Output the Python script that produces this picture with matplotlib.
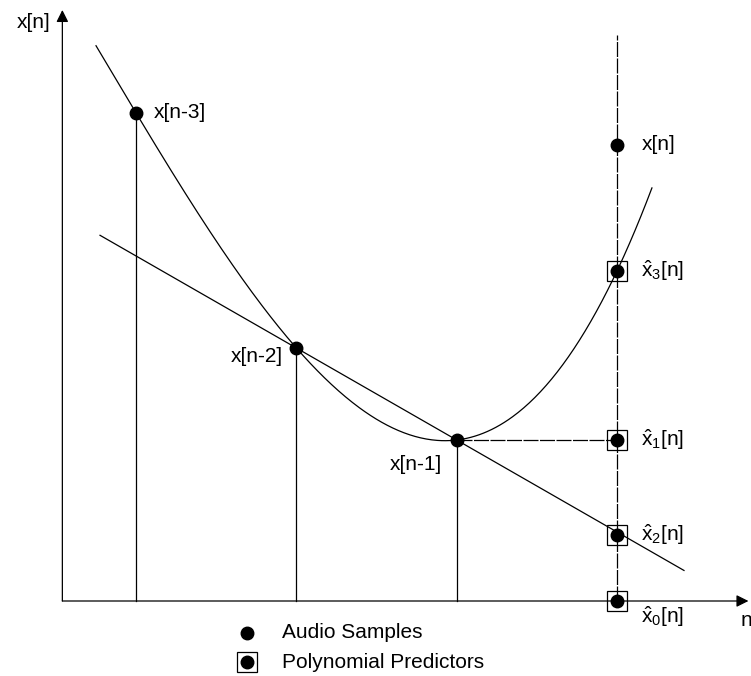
import numpy as np
import matplotlib
matplotlib.use("Agg")
import matplotlib.pyplot as plt

plt.rcParams['font.family'] = ['Liberation Sans', 'DejaVu Sans']
plt.rcParams['mathtext.fontset'] = 'custom'
plt.rcParams['mathtext.rm'] = 'Liberation Sans'
plt.rcParams['mathtext.it'] = 'Liberation Sans'

# ---- data (sample index relative to n, amplitude) ----
sample_n = [-3, -2, -1, 0]
sample_vals = [4.88, 2.53, 1.61, 4.56]
sample_labels = ["x[n-3]", "x[n-2]", "x[n-1]", "x[n]"]

pred_order = [0, 1, 2, 3]
pred_vals = [0.0, 1.61, 0.66, 3.30]
pred_labels = [r"$\hat{\mathrm{x}}_0$[n]", r"$\hat{\mathrm{x}}_1$[n]",
               r"$\hat{\mathrm{x}}_2$[n]", r"$\hat{\mathrm{x}}_3$[n]"]

curve_range = [-3.25, 0.218]
line_range = [-3.225, 0.418]
n_axis_range = [-3.46, 0.82]
amp_axis_top = 5.91
current_line_top = 5.66

fig = plt.figure(figsize=(7.51, 6.76), dpi=100)
ax = fig.add_axes([0, 0, 1, 1])
ax.set_xlim(-3.849, 0.836)
ax.set_ylim(-0.75, 6.01)
ax.axis('off')

lw = 0.9
FS = 15
DASH = (0, (12, 1.2))

# axes with arrows
ax.annotate('', xy=(n_axis_range[1], 0), xytext=(n_axis_range[0], 0),
            arrowprops=dict(arrowstyle='-|>', lw=lw, color='black', mutation_scale=18,
                            shrinkA=0, shrinkB=0))
ax.annotate('', xy=(n_axis_range[0], amp_axis_top), xytext=(n_axis_range[0], 0),
            arrowprops=dict(arrowstyle='-|>', lw=lw, color='black', mutation_scale=18,
                            shrinkA=0, shrinkB=0))
ax.annotate('x[n]', xy=(n_axis_range[0], amp_axis_top), xytext=(-12, -12),
            textcoords='offset pixels', ha='right', va='center', fontsize=FS)
ax.annotate('n', xy=(n_axis_range[1], 0), xytext=(-2, -20),
            textcoords='offset pixels', ha='center', va='center', fontsize=FS)

# cubic polynomial through past samples and 3rd-order prediction
pts_n = sample_n[:3] + [0]
pts_v = sample_vals[:3] + [pred_vals[3]]
coef3 = np.polyfit(pts_n, pts_v, 3)
tt = np.linspace(curve_range[0], curve_range[1], 400)
ax.plot(tt, np.polyval(coef3, tt), color='black', lw=lw)

# linear predictor line through x[n-2], x[n-1]
coef1 = np.polyfit(sample_n[1:3], sample_vals[1:3], 1)
ax.plot(line_range, np.polyval(coef1, line_range), color='black', lw=lw)

# vertical stems for past samples
for n, v in zip(sample_n[:3], sample_vals[:3]):
    ax.plot([n, n], [0, v], color='black', lw=lw)

# dashed vertical at current sample
ax.plot([0, 0], [0, current_line_top], color='black', lw=lw, linestyle=DASH)
# dashed horizontal from x[n-1] to x̂1
ax.plot([sample_n[2], 0], [sample_vals[2], pred_vals[1]], color='black', lw=lw,
        linestyle=DASH)

# predictor squares
ax.plot([0] * len(pred_vals), pred_vals, linestyle='none', marker='s', markersize=14,
        markerfacecolor='none', markeredgecolor='black', markeredgewidth=0.9, zorder=4)
ax.plot([0] * len(pred_vals), pred_vals, linestyle='none', marker='o', markersize=9,
        color='black', zorder=5)
# audio samples
ax.plot(sample_n, sample_vals, linestyle='none', marker='o', markersize=9,
        color='black', zorder=5)

# sample labels
offsets = {"x[n-3]": (18, 0, 'left'), "x[n-2]": (-14, -8, 'right'),
           "x[n-1]": (-15, -24, 'right'), "x[n]": (25, 0, 'left')}
for n, v, lab in zip(sample_n, sample_vals, sample_labels):
    dx, dy, ha = offsets[lab]
    ax.annotate(lab, xy=(n, v), xytext=(dx, dy), textcoords='offset pixels',
                ha=ha, va='center', fontsize=FS)

# predictor labels
for k, v, lab in zip(pred_order, pred_vals, pred_labels):
    dy = -16 if k == 0 else 0
    ax.annotate(lab, xy=(0, v), xytext=(24, dy), textcoords='offset pixels',
                ha='left', va='center', fontsize=FS)

# legend
lx, tx = 247 / 751, 282 / 751
ly1, ly2 = 1 - 633 / 676, 1 - 662 / 676
ax.plot([lx], [ly1], transform=ax.transAxes, marker='o', markersize=9, color='black')
ax.text(tx, ly1, 'Audio Samples', transform=ax.transAxes, ha='left', va='center', fontsize=FS)
ax.plot([lx], [ly2], transform=ax.transAxes, marker='s', markersize=14,
        markerfacecolor='none', markeredgecolor='black', markeredgewidth=0.9)
ax.plot([lx], [ly2], transform=ax.transAxes, marker='o', markersize=9, color='black')
ax.text(tx, ly2, 'Polynomial Predictors', transform=ax.transAxes, ha='left', va='center',
        fontsize=FS)

fig.savefig('out.png', dpi=100)
